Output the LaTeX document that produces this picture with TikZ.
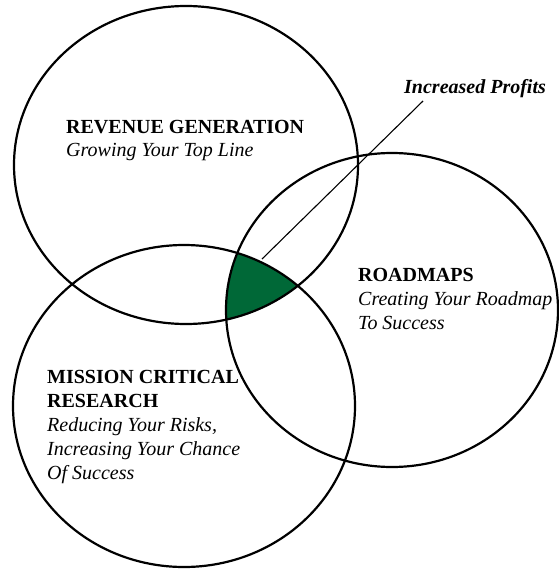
\documentclass[tikz,border=0pt]{standalone}
\usepackage{fontspec}
\setmainfont{Liberation Serif}
\definecolor{profitgreen}{RGB}{0,104,55}
\begin{document}
\begin{tikzpicture}
        [
           x=1bp, y=-1bp,
           every node/.style={inner sep=0pt, anchor=base west, align=left,
                              font=\fontsize{20bp}{23.8bp}\selectfont},
           ring/.style={line width=2.2bp}
        ]
        \tikzstyle{pointer}=[line width=1.1bp]
        \useasboundingbox (0,0) rectangle (559,569);
        \coordinate (rev) at (186,165);
        \coordinate (mis) at (184,406);
        \coordinate (road) at (392,310);
        % common area of the three rings
        \begin{scope}
            \clip (rev) ellipse [x radius=172, y radius=159];
            \clip (mis) ellipse [x radius=171, y radius=161];
            \fill[profitgreen] (road) ellipse [x radius=166, y radius=157];
        \end{scope}
        \draw[ring] (rev) ellipse [x radius=172, y radius=159];
        \draw[ring] (mis) ellipse [x radius=171, y radius=161];
        \draw[ring] (road) ellipse [x radius=166, y radius=157];
        % nodes sit on the baseline of their last line
        \node (revenue) at (66,157) {\textbf{REVENUE GENERATION}\\\textit{Growing Your Top Line}};
        \node (roadmaps) at (358,329) {\textbf{ROADMAPS}\\\textit{Creating Your Roadmap}\\\textit{To Success}};
        \node (mission) at (47,479) {\textbf{MISSION CRITICAL}\\\textbf{RESEARCH}\\\textit{Reducing Your Risks,}\\\textit{Increasing Your Chance}\\\textit{Of Success}};
        \node (profits) at (404,94) {\textbf{\textit{Increased Profits}}};
        \coordinate (core) at (262,259);
        \coordinate (tail) at ([shift={(19,7)}]profits.base west);
        \draw[pointer] (core) -- (tail);
\end{tikzpicture}
\end{document}
